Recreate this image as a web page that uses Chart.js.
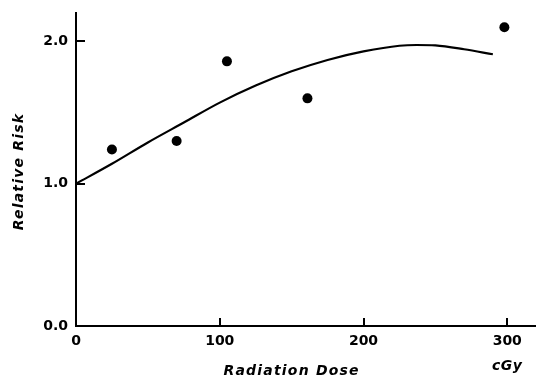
<!DOCTYPE html>
<html>
<head>
<meta charset="utf-8">
<script src="https://cdn.jsdelivr.net/npm/chart.js@4.4.1/dist/chart.umd.min.js"></script>
<style>
  html, body { margin: 0; padding: 0; background: #fff; }
  #wrap { width: 536px; height: 384px; position: relative; }
</style>
</head>
<body>
<div id="wrap"><canvas id="c" width="536" height="384"></canvas></div>
<script>
// Observed points
const doseObs = [25, 70, 105, 161, 298];
const riskObs = [1.24, 1.30, 1.86, 1.60, 2.10];
// Fitted curve
const doseFit = [0, 25, 50, 75, 100, 125, 150, 175, 200, 225, 237, 250, 270, 290];
const riskFit = [1.00, 1.14, 1.29, 1.43, 1.57, 1.69, 1.79, 1.87, 1.93, 1.97, 1.975, 1.972, 1.945, 1.91];
// Ticks
const xTicks = [0, 100, 200, 300];
const yTicks = [0, 1, 2];
const xTitle = 'Radiation Dose';
const yTitle = 'Relative Risk';
const xUnit = 'cGy';

const titleFont = 'italic bold 14px "DejaVu Sans"';
const ink = '#000';

const inwardTicks = {
  id: 'inwardTicks',
  afterDraw(chart) {
    const ctx = chart.ctx;
    const xs = chart.scales.x, ys = chart.scales.y;
    const a = chart.chartArea;
    ctx.save();
    ctx.strokeStyle = ink;
    ctx.lineWidth = 2;
    ctx.beginPath();
    xTicks.forEach(v => {
      if (v === 0) return;
      const px = Math.round(xs.getPixelForValue(v));
      ctx.moveTo(px, a.bottom);
      ctx.lineTo(px, a.bottom - 8);
    });
    yTicks.forEach(v => {
      if (v === 0) return;
      const py = Math.round(ys.getPixelForValue(v));
      ctx.moveTo(a.left, py);
      ctx.lineTo(a.left + 9, py);
    });
    ctx.stroke();

    // titles
    ctx.fillStyle = ink;
    ctx.font = titleFont;
    ctx.letterSpacing = '1.2px';
    ctx.textAlign = 'center';
    ctx.textBaseline = 'middle';
    ctx.fillText(xTitle, xs.getPixelForValue(150), 371);
    ctx.letterSpacing = '0.5px';
    ctx.fillText(xUnit, xs.getPixelForValue(300), 366);
    ctx.save();
    ctx.translate(19, (a.top + a.bottom) / 2 + 2);
    ctx.rotate(-Math.PI / 2);
    ctx.letterSpacing = '1.2px';
    ctx.fillText(yTitle, 0, 0);
    ctx.restore();
    ctx.restore();
  }
};

new Chart(document.getElementById('c'), {
  type: 'scatter',
  data: {
    datasets: [
      {
        label: 'Fit',
        data: doseFit.map((d, i) => ({ x: d, y: riskFit[i] })),
        showLine: true,
        borderColor: ink,
        borderWidth: 2.2,
        pointRadius: 0,
        cubicInterpolationMode: 'monotone',
        fill: false
      },
      {
        label: 'Observed',
        data: doseObs.map((d, i) => ({ x: d, y: riskObs[i] })),
        showLine: false,
        pointRadius: 5,
        pointBackgroundColor: ink,
        pointBorderColor: ink,
        borderWidth: 0
      }
    ]
  },
  options: {
    responsive: false,
    animation: false,
    devicePixelRatio: 1,
    layout: { autoPadding: false, padding: { top: 13, right: 0, left: 0, bottom: 0 } },
    plugins: { legend: { display: false }, tooltip: { enabled: false } },
    scales: {
      x: {
        type: 'linear',
        min: 0, max: 320,
        afterBuildTicks: s => { s.ticks = xTicks.map(v => ({ value: v })); },
        afterFit: s => { s.height = 58; s.paddingRight = 0; s.paddingLeft = 0; },
        grid: { display: true, drawOnChartArea: false, drawTicks: false },
        border: { display: true, color: ink, width: 2 },
        ticks: {
          padding: 7,
          color: ink,
          font: { family: 'DejaVu Sans', weight: 'bold', size: 14 },
          maxRotation: 0,
          callback: v => String(v)
        }
      },
      y: {
        type: 'linear',
        min: 0, max: 2.2,
        afterBuildTicks: s => { s.ticks = yTicks.map(v => ({ value: v })); },
        afterFit: s => { s.width = 76; s.paddingTop = 0; s.paddingBottom = 0; },
        grid: { display: true, drawOnChartArea: false, drawTicks: false },
        border: { display: true, color: ink, width: 2 },
        ticks: {
          padding: 8,
          color: ink,
          font: { family: 'DejaVu Sans', weight: 'bold', size: 14 },
          callback: v => v.toFixed(1)
        }
      }
    }
  },
  plugins: [inwardTicks]
});
</script>
</body>
</html>
